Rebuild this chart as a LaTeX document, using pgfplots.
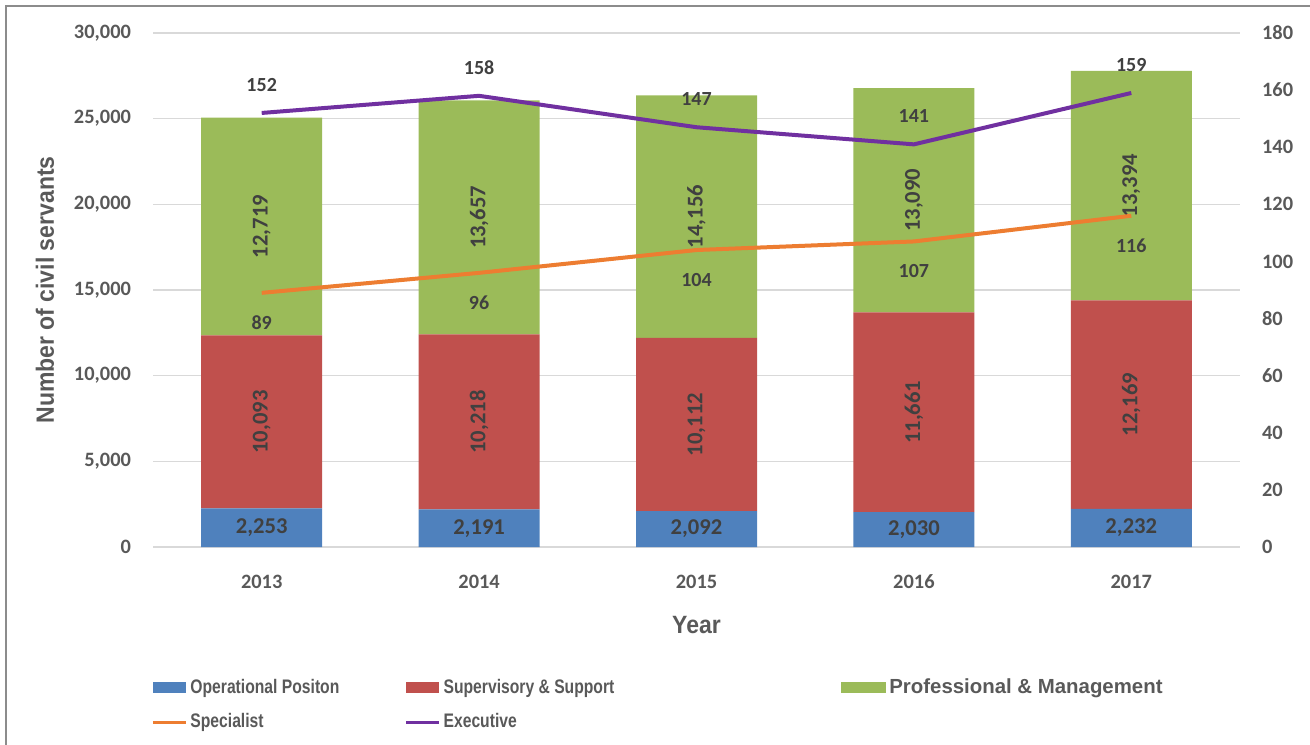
\documentclass[border=0pt]{standalone}
\usepackage{pgfplots}
\pgfplotsset{compat=1.18}
\usepackage{pgfplotstable}
\usepackage{fontspec}
\setmainfont{Liberation Sans}
\newfontfamily\carlito{Carlito}
\newfontfamily\titlefont[FakeStretch=0.92]{Liberation Sans}
\newfontfamily\legendfont[FakeStretch=0.8]{Liberation Sans}
\newfontfamily\legendwide{Liberation Sans}

\definecolor{opblue}{HTML}{4F81BD}
\definecolor{supred}{HTML}{C0504D}
\definecolor{progreen}{HTML}{9BBB59}
\definecolor{specorange}{HTML}{ED7D31}
\definecolor{execpurple}{HTML}{7030A0}
\definecolor{txt}{HTML}{595959}
\definecolor{lbl}{HTML}{404040}
\definecolor{gridc}{HTML}{D9D9D9}
\definecolor{framec}{HTML}{8C8C8C}

% civil servants by category, 2013-2017
\pgfplotstableread{
x year oper super prof spec exec
0 2013 2253 10093 12719 89  152
1 2014 2191 10218 13657 96  158
2 2015 2092 10112 14156 104 147
3 2016 2030 11661 13090 107 141
4 2017 2232 12169 13394 116 159
}\servants

\pgfplotsset{
  base/.style={
    scale only axis, width=543.5pt, height=257pt,
    xmin=-0.5, xmax=4.5, ymin=0,
    major tick length=0pt,
    scaled y ticks=false,
    tick label style={font=\carlito\bfseries\fontsize{10.2}{12}\selectfont, text=txt},
    /pgf/number format/1000 sep={,},
    /pgf/number format/assume math mode=true,
  },
}

\begin{document}
\begin{tikzpicture}
\useasboundingbox (-76.5pt,-98.5pt) rectangle (578.5pt,273.5pt);

% stacked bars, left axis
\begin{axis}[base,
    ymax=30000,
    ybar stacked, bar width=60.5pt,
    ytick={0,5000,...,30000},
    xtick={0,...,4}, xticklabels={2013,2014,2015,2016,2017},
    ymajorgrids, grid style={gridc, line width=0.6pt},
    axis x line*=bottom, axis y line*=left, axis line style={draw=none},
    yticklabel style={xshift=-7.5pt},
    xticklabel style={yshift=-10.5pt},
    ylabel={Number of civil servants},
    ylabel style={at={(axis description cs:-0.0994,0.5)}, anchor=center,
      font=\titlefont\bfseries\fontsize{12.5}{14}\selectfont, text=txt},
    xlabel={Year},
    xlabel style={at={(axis description cs:0.5,-0.152)}, anchor=center,
      font=\titlefont\bfseries\fontsize{12.5}{14}\selectfont, text=txt},
    legend columns=3,
    legend cell align=left,
    legend image code/.code={\fill[#1] (0pt,-2.8pt) rectangle (16.5pt,2.8pt);},
    legend style={at={(axis description cs:-0.002,-0.25)}, anchor=north west,
      draw=none, fill=none, inner sep=0pt, row sep=5.5pt,
      font=\legendfont\bfseries\fontsize{9.8}{11}\selectfont, text=txt,
      nodes={inner sep=1.5pt},
      /tikz/column sep=0pt,
      /tikz/column 2/.style={column sep=31pt},
      /tikz/column 4/.style={column sep=112pt}},
]
\addplot[fill=opblue, draw=none] table[x=x, y=oper] {\servants};
\addlegendentry{Operational Positon}
\addplot[fill=supred, draw=none] table[x=x, y=super] {\servants};
\addlegendentry{Supervisory \& Support}
\addplot[fill=progreen, draw=none,
  legend image code/.code={\fill[progreen] (0pt,-2.8pt) rectangle (22.5pt,2.8pt);}]
  table[x=x, y=prof] {\servants};
\addlegendentry{{\legendwide\bfseries\fontsize{10.2}{12}\selectfont Professional \& Management}}
\addlegendimage{legend image code/.code={\draw[specorange, line width=1.6pt] (0pt,0pt) -- (16.5pt,0pt);}}
\addlegendentry{Specialist}
\addlegendimage{legend image code/.code={\draw[execpurple, line width=1.6pt] (0pt,0pt) -- (16.5pt,0pt);}}
\addlegendentry{Executive}
\end{axis}

% bar data labels
\begin{axis}[base, ymax=30000, hide axis, clip=false,
    every node near coord/.append style={anchor=center, text=lbl,
      font=\carlito\bfseries\fontsize{11.3}{13}\selectfont},
]
\addplot[draw=none, mark=none, point meta=explicit, nodes near coords]
  table[x=x, y expr=\thisrow{oper}/2, meta=oper] {\servants};
\addplot[draw=none, mark=none, point meta=explicit, nodes near coords,
  every node near coord/.append style={rotate=90}]
  table[x=x, y expr=\thisrow{oper}+\thisrow{super}/2, meta=super] {\servants};
\addplot[draw=none, mark=none, point meta=explicit, nodes near coords,
  every node near coord/.append style={rotate=90}]
  table[x=x, y expr=\thisrow{oper}+\thisrow{super}+\thisrow{prof}/2, meta=prof] {\servants};
\end{axis}

% lines, right axis
\begin{axis}[base,
    ymax=180,
    ytick={0,20,...,180},
    axis y line*=right, axis x line=none, axis line style={draw=none},
    yticklabel style={xshift=7.5pt},
    clip=false,
    every node near coord/.append style={anchor=center, text=lbl,
      font=\carlito\bfseries\fontsize{10}{12}\selectfont},
]
\addplot[specorange, line width=2pt, mark=none, nodes near coords,
  every node near coord/.append style={yshift=-15pt}]
  table[x=x, y=spec] {\servants};
\addplot[execpurple, line width=2pt, mark=none, nodes near coords,
  every node near coord/.append style={yshift=14pt}]
  table[x=x, y=exec] {\servants};
\end{axis}

\draw[framec, line width=0.6pt] (-73.5pt,-99pt) -- (-73.5pt,270.5pt) -- (580pt,270.5pt);
\end{tikzpicture}
\end{document}
